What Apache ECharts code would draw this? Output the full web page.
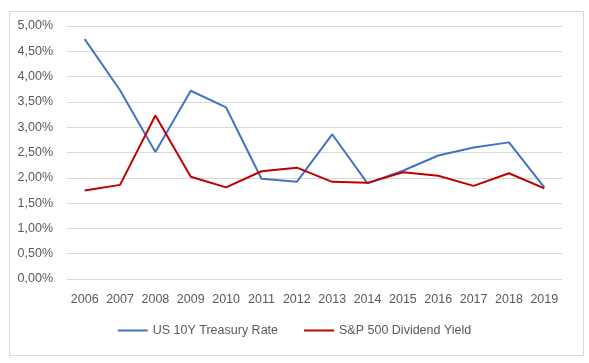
<!DOCTYPE html>
<html>
<head>
<meta charset="utf-8">
<script src="https://cdn.jsdelivr.net/npm/echarts@6/dist/echarts.min.js"></script>
<style>html,body{margin:0;padding:0;background:#fff}#c{width:589px;height:363px}</style>
</head>
<body>
<div id="c"></div>
<script>
const categories = ['2006','2007','2008','2009','2010','2011','2012','2013','2014','2015','2016','2017','2018','2019'];
const treasury = [4.74, 3.73, 2.51, 3.72, 3.39, 1.98, 1.92, 2.86, 1.89, 2.14, 2.44, 2.60, 2.70, 1.81];
const dividend = [1.75, 1.86, 3.23, 2.02, 1.81, 2.13, 2.20, 1.92, 1.90, 2.11, 2.04, 1.84, 2.09, 1.79];
const seriesNames = ['US 10Y Treasury Rate', 'S&P 500 Dividend Yield'];

const chart = echarts.init(document.getElementById('c'), null, {renderer: 'canvas'});
const font = 'Liberation Sans, Arial, sans-serif';
chart.setOption({
  animation: false,
  textStyle: {fontFamily: font},
  graphic: [{
    type: 'rect', left: 7, top: 9, shape: {width: 574, height: 344},
    style: {fill: 'none', stroke: '#d9d9d9', lineWidth: 1}, silent: true
  }],
  grid: {left: 67, right: 27, top: 26, bottom: 84},
  legend: {
    bottom: 21, left: 'center', itemWidth: 30, itemHeight: 2, itemGap: 26,
    icon: 'rect',
    textStyle: {color: '#595959', fontSize: 12.5, fontFamily: font},
    data: seriesNames
  },
  xAxis: {
    type: 'category', data: categories, boundaryGap: true,
    axisLine: {show: false}, axisTick: {show: false},
    axisLabel: {color: '#595959', fontSize: 12.5, margin: 14, interval: 0, fontFamily: font}
  },
  yAxis: {
    type: 'value', min: 0, max: 5, interval: 0.5,
    axisLine: {show: false}, axisTick: {show: false},
    splitLine: {lineStyle: {color: '#d9d9d9', width: 1}},
    axisLabel: {color: '#595959', fontSize: 12.5, margin: 14, fontFamily: font,
      formatter: v => v.toFixed(2).replace('.', ',') + '%'}
  },
  series: [
    {name: seriesNames[0], type: 'line', data: treasury, symbol: 'none',
     lineStyle: {color: '#4472C4', width: 2}, itemStyle: {color: '#4472C4'}},
    {name: seriesNames[1], type: 'line', data: dividend, symbol: 'none',
     lineStyle: {color: '#C00000', width: 2}, itemStyle: {color: '#C00000'}}
  ]
});
</script>
</body>
</html>
